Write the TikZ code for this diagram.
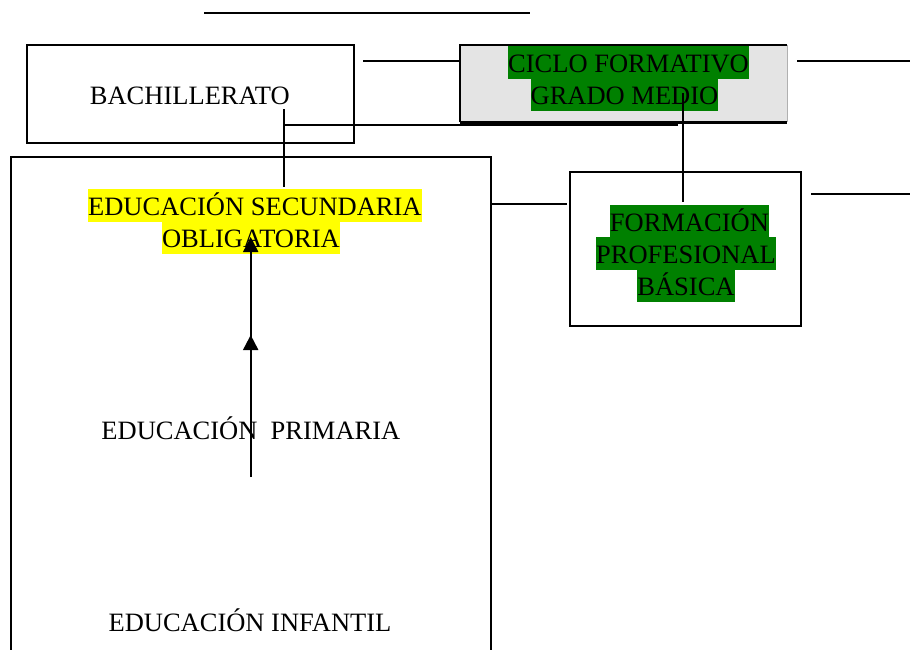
\documentclass[tikz,border=0pt]{standalone}
\usepackage{fontspec}
\setmainfont{Liberation Serif}
\usetikzlibrary{arrows.meta}
\definecolor{boxgray}{HTML}{E4E4E4}
\definecolor{hlgreen}{HTML}{008000}
\definecolor{hlyellow}{HTML}{FFFF00}
\definecolor{edgegray}{HTML}{B0B0B0}
\begin{document}
\begin{tikzpicture}[x=1pt,y=-1pt,
  txt/.style={inner sep=0pt,anchor=base,font=\fontsize{26.5}{32.3}\selectfont},
  hl/.style={txt,fill=#1,text height=26pt,text depth=6.3pt},
  frame/.style={draw=black,line width=1.6pt,inner sep=0pt},
  conn/.style={line width=1.6pt},
  arr/.style={line width=2pt,-{Triangle[length=15pt,width=15pt]}}]
\clip (0,0) rectangle (910,649);
\fill[white] (0,0) rectangle (910,649);

% boxes
\node[frame,minimum width=327pt,minimum height=98pt] (bach) at (190.5,94) {};
\node[inner sep=0pt,fill=boxgray,minimum width=327pt,minimum height=77pt] (cic) at (623.5,83.5) {};
\draw[line width=1.6pt] (cic.south west) -- (cic.north west) -- (cic.north east);
\draw[edgegray,line width=1.2pt] (cic.north east) -- (cic.south east);
\draw[line width=3.2pt] (cic.south west) -- (cic.south east);
\node[frame,minimum width=231pt,minimum height=154pt] (fpb) at (685.5,249) {};
\coordinate (bigSW) at (11,660);
\coordinate (bigNW) at (11,157);
\coordinate (bigNE) at (491,157);
\coordinate (bigSE) at (491,660);
\draw[line width=1.6pt] (bigSW) -- (bigNW) -- (bigNE) -- (bigSE);

% texts
\node[txt] (tbach) at (189.8,104) {BACHILLERATO};
\node[hl=hlgreen] (cf1) at (628.5,72.3) {CICLO FORMATIVO\ };
\node[hl=hlgreen] (cf2) at (624.5,104.3) {GRADO MEDIO};
\node[hl=hlyellow] (eso1) at (254.9,215.3) {EDUCACIÓN SECUNDARIA\ };
\node[hl=hlyellow] (eso2) at (250.9,247.6) {OBLIGATORIA};
\node[hl=hlgreen] (fpb1) at (689.4,231) {FORMACIÓN\ };
\node[hl=hlgreen] (fpb2) at (686,263.3) {PROFESIONAL};
\node[hl=hlgreen] (fpb3) at (686,295.6) {BÁSICA};
\node[txt] (prim) at (250.9,439) {EDUCACIÓN\ \ PRIMARIA};
\node[txt] (inf) at (250,631.7) {EDUCACIÓN INFANTIL};

% loose connector lines
\coordinate (t0) at (204,13); \coordinate (t1) at (530,13);
\draw[conn] (t0) -- (t1);
\coordinate (b0) at (363,61);
\draw[conn] (b0) -- (b0 -| cic.west);
\coordinate (c0) at (797,61); \coordinate (c1) at (910,61);
\draw[conn] (c0) -- (c1);
\coordinate (v0) at (284,109); \coordinate (v1) at (284,187);
\draw[conn] (v0) -- (v1);
\coordinate (h0) at (284,125); \coordinate (h1) at (678,125);
\draw[conn] (h0) -- (h1);
\coordinate (w0) at (683,93); \coordinate (w1) at (683,202);
\draw[conn] (w0) -- (w1);
\coordinate (e0) at (491,204); \coordinate (e1) at (567,204);
\draw[conn] (e0) -- (e1);
\coordinate (f0) at (811,194); \coordinate (f1) at (910,194);
\draw[conn] (f0) -- (f1);

% arrows
\coordinate (a0) at (250.7,477);
\coordinate (a1) at (250.7,335);
\coordinate (a2) at (250.7,350);
\coordinate (a3) at (250.7,237);
\draw[arr] (a0) -- (a1);
\draw[arr] (a2) -- (a3);
\end{tikzpicture}
\end{document}
